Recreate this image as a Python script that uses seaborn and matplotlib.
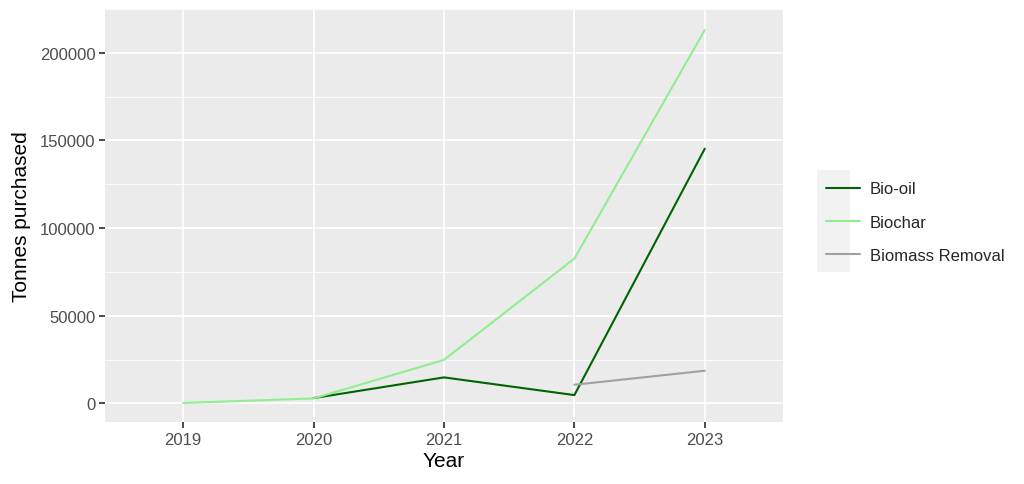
import matplotlib
matplotlib.use("Agg")
import matplotlib.pyplot as plt
import seaborn as sns
import pandas as pd
import numpy as np
from matplotlib.patches import Rectangle
from matplotlib.lines import Line2D

years = ["2019", "2020", "2021", "2022", "2023"]
bio_oil = [None, 3000, 14800, 4700, 145300]
biochar = [200, 2800, 24800, 82600, 213000]
biomass_removal = [None, None, None, 10600, 18600]
series_names = ["Bio-oil", "Biochar", "Biomass Removal"]
colors = ["#006400", "#90EE90", "#A0A0A0"]

rows = []
for name, vals in zip(series_names, [bio_oil, biochar, biomass_removal]):
    for y, v in zip(years, vals):
        if v is not None:
            rows.append({"Year": years.index(y), "Tonnes": v, "Type": name})
df = pd.DataFrame(rows)

sns.set_theme(style="darkgrid", rc={
    "axes.facecolor": "#EBEBEB",
    "grid.color": "white",
    "axes.edgecolor": "white",
})
plt.rcParams["font.family"] = ["Liberation Sans", "DejaVu Sans"]

W, H = 1024, 485
fig = plt.figure(figsize=(W / 100, H / 100), dpi=100)
ax = fig.add_axes([105 / W, 1 - 423 / H, (783 - 105) / W, (423 - 10) / H])

sns.lineplot(data=df, x="Year", y="Tonnes", hue="Type", hue_order=series_names,
             palette=colors, linewidth=1.5, ax=ax, legend=False)

ax.set_xlim(-0.6, 4.6)
ax.set_ylim(-10650, 223650)
ax.set_xticks(range(len(years)))
ax.set_xticklabels(years)
ax.set_yticks([0, 50000, 100000, 150000, 200000])
ax.set_yticklabels(["0", "50000", "100000", "150000", "200000"])
ax.set_yticks([25000, 75000, 125000, 175000, 225000], minor=True)
ax.grid(True, which="major", color="white", linewidth=1.2)
ax.grid(True, which="minor", axis="y", color="white", linewidth=0.6)
ax.grid(False, which="minor", axis="x")
for s in ax.spines.values():
    s.set_visible(False)
ax.tick_params(axis="both", which="major", length=4, color="#333333", labelsize=12,
               labelcolor="#4D4D4D", pad=3, bottom=True, left=True)
ax.tick_params(which="minor", length=0)
ax.set_xlabel("Year", fontsize=15, color="black", labelpad=3)
ax.set_ylabel("Tonnes purchased", fontsize=15, color="black", labelpad=6)

# legend key background
fig.patches.append(Rectangle((817 / W, 1 - 273 / H), 33 / W, 102 / H,
                             transform=fig.transFigure, facecolor="#F2F2F2",
                             edgecolor="none", zorder=0))
handles = [Line2D([0], [0], color=c, linewidth=1.5) for c in colors]
fig.legend(handles, series_names, loc="upper left",
           bbox_to_anchor=(813 / W, 1 - 169 / H), frameon=False,
           fontsize=12, handlelength=2.0, handletextpad=0.6,
           labelspacing=1.1, borderpad=0.3)

fig.savefig("out.png", dpi=100, facecolor="white")
